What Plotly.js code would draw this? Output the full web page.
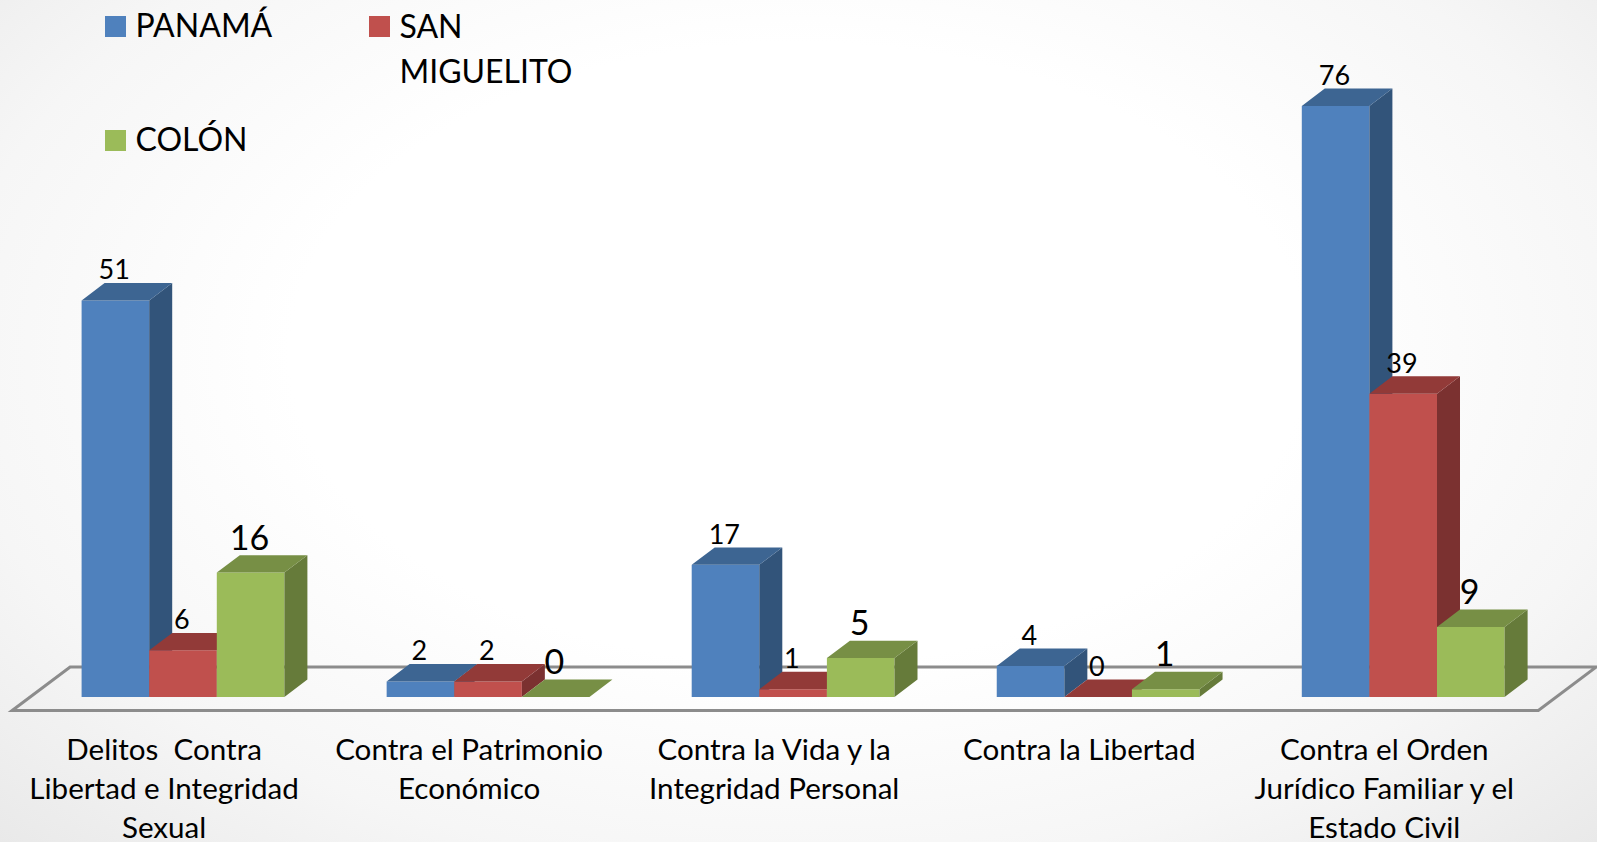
<!DOCTYPE html>
<html>
<head>
<meta charset="utf-8">
<script src="https://cdn.plot.ly/plotly-3.0.1.min.js"></script>
<style>
html,body{margin:0;padding:0;width:1597px;height:842px;overflow:hidden;
background:radial-gradient(ellipse farthest-corner at 50% 42%,#ffffff 45%,#f6f6f6 75%,#e9e9e9 100%);}
#chart{width:1597px;height:842px;}
</style>
</head>
<body>
<div id="chart"></div>
<script>
// ---------- data ----------
var categories = [
  "Delitos  Contra<br>Libertad e Integridad<br>Sexual",
  "Contra el Patrimonio<br>Económico",
  "Contra la Vida y la<br>Integridad Personal",
  "Contra la Libertad",
  "Contra el Orden<br>Jurídico Familiar y el<br>Estado Civil"
];
var seriesNames = ["PANAMÁ", "SAN<br>MIGUELITO", "COLÓN"];
var panama = [51, 2, 17, 4, 76];
var sanMiguelito = [6, 2, 1, 0, 39];
var colon = [16, 0, 5, 1, 9];

// ---------- styles ----------
var frontColors = ["#4F81BD", "#C0504D", "#9BBB59"];
var topColors = ["#3D6592", "#923A38", "#778F45"];
var sideColors = ["#32547A", "#7B3130", "#667B3A"];
var labelSizes = [27, 27, 34];
var FONT = "Lato, Carlito, sans-serif";

// ---------- geometry ----------
var W = 1597, H = 842, MARGIN_B = 127;
var PX_X = 305.05, PX_Y = 7.776;      // pixels per category / per unit
var ORIGIN_X = 183, ORIGIN_Y = 697;   // pixel position of category 0 / value 0
var barW = 67.6 / PX_X;
var depthX = 23 / PX_X, depthY = 17.4 / PX_Y;
var labelDrop = 3 / PX_Y, labelShift = -1.2 / PX_X;
var xRange = [-ORIGIN_X / PX_X, (W - ORIGIN_X) / PX_X];
var yRange = [(ORIGIN_Y - (H - MARGIN_B)) / PX_Y, ORIGIN_Y / PX_Y];
var idx = categories.map(function (_, i) { return i; });
var allSeries = [panama, sanMiguelito, colon];

function faces(values, s) {
  var off = (s - 1.5) * barW;
  var top = {x: [], y: []}, side = {x: [], y: []};
  values.forEach(function (v, i) {
    var l = i + off, r = l + barW;
    top.x.push(l, r, r + depthX, l + depthX, l, null);
    top.y.push(v, v, v + depthY, v + depthY, v, null);
    side.x.push(r, r + depthX, r + depthX, r, r, null);
    side.y.push(0, depthY, v + depthY, v, 0, null);
  });
  return {top: top, side: side};
}

var traces = [];
allSeries.forEach(function (values, s) {
  var sfx = s === 0 ? "" : String(s + 1);
  var xa = "x" + sfx, ya = "y" + sfx;
  var f = faces(values, s);
  traces.push({
    type: "bar", name: seriesNames[s], x: idx, y: values, xaxis: xa, yaxis: ya,
    width: barW, offset: (s - 1.5) * barW,
    marker: {color: frontColors[s], line: {width: 0}}, hoverinfo: "y"
  });
  [[f.side, sideColors[s]], [f.top, topColors[s]]].forEach(function (p) {
    traces.push({
      type: "scatter", mode: "lines", x: p[0].x, y: p[0].y, xaxis: xa, yaxis: ya,
      fill: "toself", fillcolor: p[1], line: {width: 0, color: p[1]},
      showlegend: false, hoverinfo: "skip"
    });
  });
});
// data labels sit on top of everything
allSeries.forEach(function (values, s) {
  traces.push({
    type: "scatter", mode: "text", xaxis: "x3", yaxis: "y3",
    x: idx.map(function (i) { return i + (s - 1) * barW + labelShift; }),
    y: values.map(function (v) { return v + depthY - labelDrop; }),
    text: values.map(String), textposition: "top center",
    textfont: {family: FONT, size: labelSizes[s], color: "#000"},
    showlegend: false, hoverinfo: "skip"
  });
});

function hiddenAxis(range, extra) {
  return Object.assign({range: range, visible: false, fixedrange: true}, extra);
}
var layout = {
  width: W, height: H,
  margin: {l: 0, r: 0, t: 0, b: MARGIN_B, pad: 0},
  paper_bgcolor: "rgba(0,0,0,0)", plot_bgcolor: "rgba(0,0,0,0)",
  xaxis: {
    range: xRange, tickmode: "array",
    tickvals: idx.map(function (i) { return i - 0.062; }),
    ticktext: categories, tickangle: 0,
    tickfont: {family: FONT, size: 29.6, color: "#000"},
    ticks: "", ticklabelstandoff: 14,
    showgrid: false, zeroline: false, showline: false, fixedrange: true
  },
  yaxis: hiddenAxis(yRange),
  xaxis2: hiddenAxis(xRange, {overlaying: "x"}),
  yaxis2: hiddenAxis(yRange, {overlaying: "y"}),
  xaxis3: hiddenAxis(xRange, {overlaying: "x"}),
  yaxis3: hiddenAxis(yRange, {overlaying: "y"}),
  shapes: [{
    type: "path", xref: "x", yref: "y", layer: "below",
    path: "M-0.56,-1.74 L-0.37,3.86 L4.633,3.86 L4.443,-1.74 Z",
    line: {color: "#8C8C8C", width: 3}, fillcolor: "rgba(0,0,0,0)"
  }],
  legend: {
    orientation: "h", x: 0, y: 1, xanchor: "left", yanchor: "top",
    bgcolor: "rgba(0,0,0,0)", borderwidth: 0,
    entrywidth: 260, entrywidthmode: "pixels",
    font: {family: FONT, size: 32, color: "#000"}
  },
  showlegend: true
};

// placement of the legend entries as in the reference: [x, y] of each entry
var legendPlace = [[95.5, 26.5], [359.5, 26.5], [95.5, 140.5]];
var LEG_LINE = 45, TICK_LINE = 39.3, SWATCH = 10.5, LEG_TEXT_UP = 1.5, LEG_CENTER_SHIFT = 21.5;

// Plotly stores each line's offset as n * 1.3em; turn it into the reference's line pitch
function setLinePitch(tspans, pitch) {
  tspans.forEach(function (t) {
    var n = Math.round(parseFloat(t.getAttribute("dy") || "0") / 1.3);
    t.setAttribute("dy", (n * pitch) + "px");
  });
}

Plotly.newPlot("chart", traces, layout, {displayModeBar: false}).then(function () {
  var root = document.getElementById("chart");
  root.querySelectorAll(".xtick text").forEach(function (t) {
    setLinePitch(t.querySelectorAll("tspan.line"), TICK_LINE);
  });
  var leg = root.querySelector(".legend");
  leg.setAttribute("transform", "translate(0,0)");
  var sb = leg.querySelector(".scrollbox");
  sb.removeAttribute("clip-path");
  sb.style.clipPath = "none";
  leg.removeAttribute("clip-path");
  leg.querySelectorAll(".traces").forEach(function (g, i) {
    g.setAttribute("transform", "translate(" + legendPlace[i][0] + "," + legendPlace[i][1] + ")");
    g.querySelectorAll(".legendpoints path").forEach(function (p) {
      p.setAttribute("d", "M" + SWATCH + "," + SWATCH + "H-" + SWATCH + "V-" + SWATCH + "H" + SWATCH + "Z");
    });
    var txt = g.querySelector("text.legendtext");
    var lines = txt.querySelectorAll("tspan.line");
    var dy = (lines.length > 1 ? LEG_CENTER_SHIFT * (lines.length - 1) : 0) - LEG_TEXT_UP;
    txt.setAttribute("transform", "translate(0," + dy + ")");
    setLinePitch(lines, LEG_LINE);
  });
});
</script>
</body>
</html>
